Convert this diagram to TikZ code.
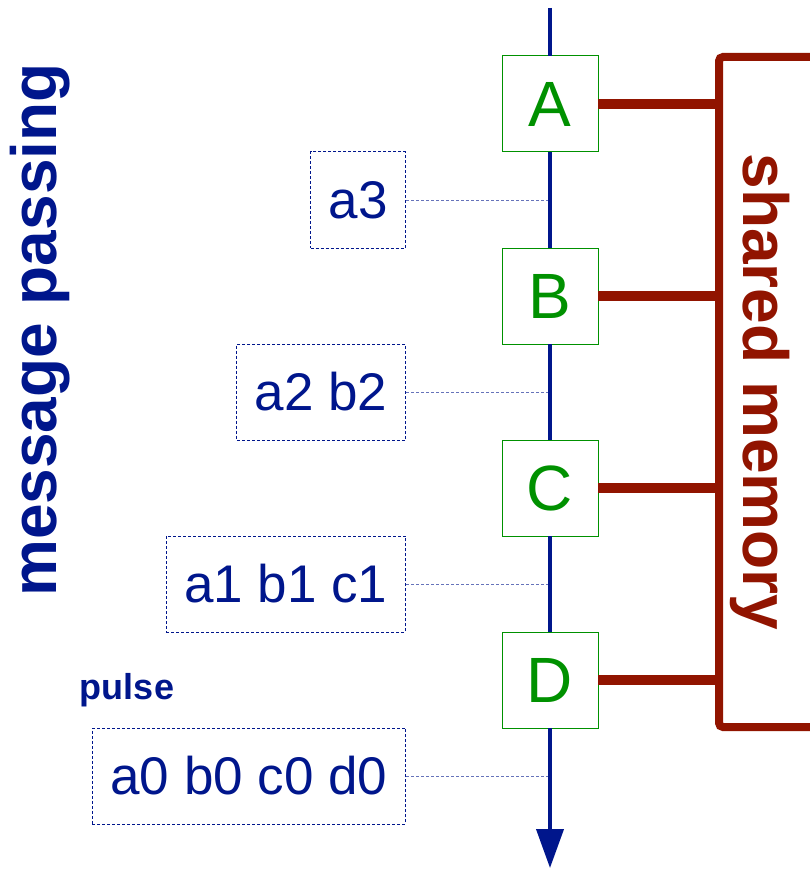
\documentclass[tikz,border=0pt]{standalone}
\usepackage{fontspec}
\setmainfont{Liberation Sans}
\usepackage{xcolor}
\usepackage{tikz}
\usetikzlibrary{arrows.meta, positioning, calc}
\definecolor{passblue}{RGB}{0,22,140}
\definecolor{memred}{RGB}{145,20,0}
\definecolor{coregreen}{RGB}{0,145,0}
\tikzstyle{station} = [rectangle, minimum width=96pt, minimum height=96pt, inner sep=0pt, outer sep=0pt, draw=coregreen, line width=1pt, fill=white, text=coregreen, font=\fontsize{64}{64}\selectfont]
\tikzstyle{packet} = [rectangle, anchor=east, minimum height=96pt, inner xsep=18pt, inner ysep=0pt, draw=passblue, line width=1pt, dash pattern=on 3pt off 2pt, text=passblue, font=\fontsize{53}{53}\selectfont]
\tikzstyle{link} = [passblue!60, line width=1pt, dash pattern=on 3pt off 2pt]
\tikzstyle{axis} = [passblue, line width=4pt]
\tikzstyle{arrow} = [axis, -{Triangle[width=27pt,length=39pt]}]
\tikzstyle{bus} = [memred, line width=8pt, rounded corners=4pt]
\tikzstyle{tap} = [memred, line width=10pt]
\tikzstyle{title} = [inner sep=0pt, anchor=base, font=\bfseries\fontsize{64}{64}\selectfont]

\begin{document}
\begin{tikzpicture}[x=1pt, y=-1pt, node distance=96pt]
  \useasboundingbox (0,0) rectangle (809,869);
  \node (a) [station] at (550,104) {A};
  \node (b) [station, below=of a] {B};
  \node (c) [station, below=of b] {C};
  \node (d) [station, below=of c] {D};
  \coordinate (top) at (550,8);
  \coordinate (bottom) at (550,868);
  \coordinate (t3) at ($(a)!0.5!(b)$);
  \coordinate (t2) at ($(b)!0.5!(c)$);
  \coordinate (t1) at ($(c)!0.5!(d)$);
  \coordinate (t0) at ($(d)+(0,96)$);
  \node (m3) [packet] at (406,200) {a3};
  \node (m2) [packet] at (406,392) {a2 b2};
  \node (m1) [packet] at (406,584) {a1 b1 c1};
  \node (m0) [packet] at (406,776) {a0 b0 c0 d0};
  \node (pulse) [text=passblue, font=\bfseries\fontsize{36}{36}\selectfont] at (127,690) {pulse};
  \node (mp) [title, rotate=90, text=passblue] at (56,330) {message passing};
  \node (sm) [title, rotate=-90, text=memred] at (743,392) {shared memory};
  \draw[link] (m3.east) -- (t3);
  \draw[link] (m2.east) -- (t2);
  \draw[link] (m1.east) -- (t1);
  \draw[link] (m0.east) -- (t0);
  \draw[axis] (top) -- (a);
  \draw[axis] (a) -- (b);
  \draw[axis] (b) -- (c);
  \draw[axis] (c) -- (d);
  \draw[arrow] (d) -- (bottom);
  \coordinate (bustop) at (719,57);
  \coordinate (busbot) at (719,727);
  \draw[bus] ($(bustop)+(95,0)$) -- (bustop) -- (busbot) -- ++(95,0);
  \draw[tap] (a.east) -- (a.east -| bustop);
  \draw[tap] (b.east) -- (b.east -| bustop);
  \draw[tap] (c.east) -- (c.east -| bustop);
  \draw[tap] (d.east) -- (d.east -| bustop);
\end{tikzpicture}
\end{document}
